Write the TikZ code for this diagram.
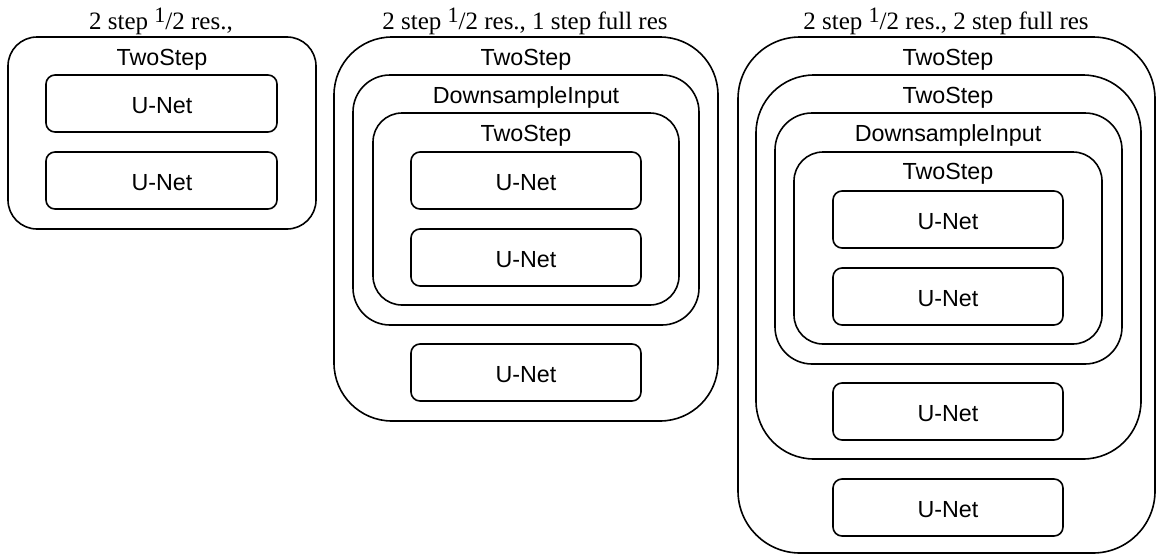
\documentclass[tikz,border=0pt]{standalone}
\usepackage{fontspec}
\setmainfont{Liberation Serif}
\newfontfamily\boxfont{Liberation Sans}
\newcommand{\halfres}{\raisebox{0.24em}{\fontsize{22}{22}\selectfont 1}/2}
\begin{document}
\begin{tikzpicture}[x=1pt, y=-1pt,
  frame/.style={line width=1.6pt},
  lbl/.style={anchor=base, inner sep=0pt, font=\boxfont\fontsize{23.3}{27}\selectfont},
  ttl/.style={anchor=base, inner sep=0pt, font=\fontsize{25}{29}\selectfont}]
% Page size in pixels of the original
\useasboundingbox (0,0) rectangle (1156,554);

% Left: one TwoStep
\node[ttl] (t1) at (161,29) {2 step \halfres{} res.,};
\draw[frame, rounded corners=29] (8,37) rectangle (316,229);
\node[lbl] (a1) at (162,65) {TwoStep};
\draw[frame, rounded corners=9] (46,75) rectangle (277,132);
\node[lbl] (a1u1) at (162,113) {U-Net};
\draw[frame, rounded corners=9] (46,152) rectangle (277,209);
\node[lbl] (a1u2) at (162,190) {U-Net};

% Middle: TwoStep around DownsampleInput
\node[ttl] (t2) at (525,29) {2 step \halfres{} res., 1 step full res};
\draw[frame, rounded corners=58] (334,37) rectangle (718,421);
\node[lbl] (b1) at (526,65) {TwoStep};
\draw[frame, rounded corners=37] (353,75) rectangle (699,325);
\node[lbl] (b2) at (526,103) {DownsampleInput};
\draw[frame, rounded corners=29] (373,113) rectangle (679,305);
\node[lbl] (b3) at (526,141) {TwoStep};
\draw[frame, rounded corners=9] (411,152) rectangle (641,209);
\node[lbl] (b3u1) at (526,190) {U-Net};
\draw[frame, rounded corners=9] (411,229) rectangle (641,286);
\node[lbl] (b3u2) at (526,267) {U-Net};
\draw[frame, rounded corners=9] (411,344) rectangle (641,401);
\node[lbl] (b1u) at (526,382) {U-Net};

% Right: two TwoSteps around DownsampleInput
\node[ttl] (t3) at (946,29) {2 step \halfres{} res., 2 step full res};
\draw[frame, rounded corners=62] (738,37) rectangle (1155,553);
\node[lbl] (c1) at (948,65) {TwoStep};
\draw[frame, rounded corners=58] (756,75) rectangle (1141,459);
\node[lbl] (c2) at (948,103) {TwoStep};
\draw[frame, rounded corners=37] (775,113) rectangle (1122,364);
\node[lbl] (c3) at (948,141) {DownsampleInput};
\draw[frame, rounded corners=29] (794,152) rectangle (1102,344);
\node[lbl] (c4) at (948,179) {TwoStep};
\draw[frame, rounded corners=9] (833,191) rectangle (1063,248);
\node[lbl] (c4u1) at (948,229) {U-Net};
\draw[frame, rounded corners=9] (833,268) rectangle (1063,325);
\node[lbl] (c4u2) at (948,306) {U-Net};
\draw[frame, rounded corners=9] (833,383) rectangle (1063,440);
\node[lbl] (c2u) at (948,421) {U-Net};
\draw[frame, rounded corners=9] (833,479) rectangle (1063,536);
\node[lbl] (c1u) at (948,517) {U-Net};
\end{tikzpicture}
\end{document}
